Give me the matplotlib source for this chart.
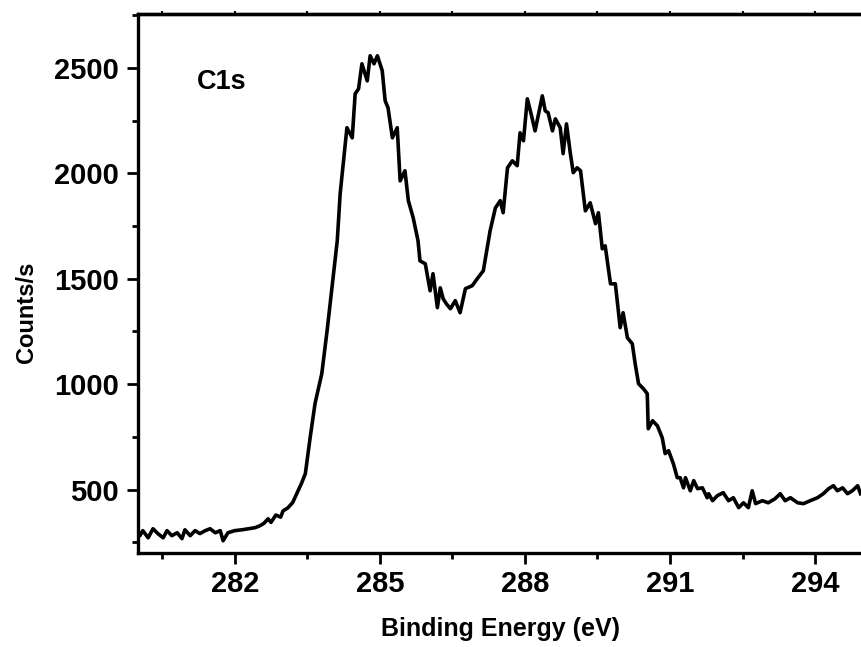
import matplotlib
matplotlib.use("Agg")
import matplotlib.pyplot as plt
from matplotlib.ticker import MultipleLocator

plt.rcParams['font.family'] = ['Liberation Sans', 'DejaVu Sans']
plt.rcParams['font.weight'] = 'bold'

# XPS C1s spectrum
energy = [280.0, 280.04, 280.1, 280.21, 280.31, 280.41, 280.52, 280.6, 280.7, 280.81,
          280.91, 280.97, 281.08, 281.18, 281.28, 281.39, 281.49, 281.6, 281.7, 281.76,
          281.86, 282.0, 282.15, 282.28, 282.42, 282.52, 282.6, 282.69, 282.75, 282.85,
          282.95, 283.0, 283.1, 283.2, 283.31, 283.38, 283.46, 283.56, 283.66, 283.8,
          283.91, 284.01, 284.12, 284.18, 284.25, 284.32, 284.43, 284.49, 284.56, 284.63,
          284.74, 284.8, 284.88, 284.95, 285.05, 285.11, 285.17, 285.26, 285.36, 285.42,
          285.52, 285.59, 285.69, 285.79, 285.83, 285.94, 286.04, 286.1, 286.19, 286.25,
          286.31, 286.38, 286.46, 286.56, 286.66, 286.77, 286.91, 287.03, 287.14, 287.22,
          287.28, 287.39, 287.49, 287.55, 287.64, 287.74, 287.84, 287.9, 287.97, 288.05,
          288.13, 288.21, 288.36, 288.42, 288.48, 288.57, 288.63, 288.73, 288.79, 288.86,
          288.94, 289.0, 289.08, 289.15, 289.25, 289.35, 289.46, 289.52, 289.6, 289.66,
          289.77, 289.87, 289.97, 290.03, 290.12, 290.22, 290.28, 290.35, 290.45, 290.53,
          290.55, 290.64, 290.74, 290.84, 290.9, 290.97, 291.07, 291.15, 291.21, 291.28,
          291.32, 291.42, 291.49, 291.57, 291.67, 291.77, 291.8, 291.88, 291.98, 292.1,
          292.21, 292.31, 292.42, 292.52, 292.62, 292.7, 292.77, 292.91, 293.03, 293.17,
          293.28, 293.38, 293.49, 293.64, 293.76, 293.9, 294.05, 294.17, 294.28, 294.38,
          294.46, 294.57, 294.67, 294.77, 294.88, 294.94]
counts = [306, 282, 306, 272, 315, 292, 272, 306, 282, 296,
          268, 310, 282, 306, 292, 306, 315, 296, 306, 258,
          296, 306, 310, 315, 320, 329, 340, 362, 345, 380,
          370, 400, 414, 440, 495, 530, 576, 748, 908, 1050,
          1254, 1457, 1680, 1903, 2060, 2216, 2168, 2377, 2400, 2519,
          2438, 2557, 2519, 2557, 2486, 2344, 2310, 2168, 2216, 1964,
          2012, 1870, 1789, 1680, 1585, 1571, 1443, 1524, 1363, 1457,
          1405, 1380, 1358, 1396, 1339, 1453, 1467, 1505, 1538, 1647,
          1727, 1836, 1870, 1813, 2026, 2059, 2036, 2192, 2154, 2353,
          2280, 2201, 2367, 2296, 2287, 2201, 2258, 2216, 2093, 2234,
          2093, 2003, 2026, 2012, 1822, 1860, 1761, 1813, 1642, 1656,
          1476, 1476, 1268, 1339, 1220, 1192, 1097, 1002, 979, 955,
          789, 827, 803, 746, 671, 685, 623, 557, 557, 509,
          557, 495, 543, 505, 509, 462, 481, 448, 472, 486,
          448, 462, 415, 438, 415, 495, 434, 448, 438, 457,
          481, 448, 462, 438, 434, 448, 462, 481, 505, 519,
          495, 509, 481, 495, 519, 481]

fig = plt.figure(figsize=(8.62, 6.47), dpi=100)
ax = fig.add_axes([138 / 862, 94 / 647, 1 - 138 / 862, 539 / 647])

ax.plot(energy, counts, color='black', linewidth=2.6)

ax.set_xlim(280, 294.97)
ax.set_ylim(200, 2755)

ax.xaxis.set_major_locator(MultipleLocator(3))
ax.xaxis.set_minor_locator(MultipleLocator(1.5))
ax.yaxis.set_major_locator(MultipleLocator(500))
ax.yaxis.set_minor_locator(MultipleLocator(250))
ax.set_yticks([500, 1000, 1500, 2000, 2500])

ax.tick_params(which='major', direction='out', length=8, width=2, labelsize=21, pad=6)
ax.tick_params(which='minor', direction='out', length=4.5, width=2)
ax.tick_params(axis='x', pad=4)

for side in ['left', 'bottom', 'top']:
    ax.spines[side].set_linewidth(2.4)
ax.spines['right'].set_visible(False)

top = ax.secondary_xaxis('top')
top.xaxis.set_major_locator(MultipleLocator(1.5))
top.tick_params(direction='out', length=2, width=1.5, labeltop=False)
top.spines['top'].set_linewidth(2.4)

ax.set_xlabel('Binding Energy (eV)', fontsize=18, fontweight='bold')
ax.xaxis.set_label_coords(0.501, -0.118)
ax.set_ylabel('Counts/s', fontsize=17, fontweight='bold')
ax.yaxis.set_label_coords(-0.138, 0.447)

ax.text(281.22, 2400, 'C1s', fontsize=19.5, fontweight='bold')

fig.savefig('out.png', dpi=100)
